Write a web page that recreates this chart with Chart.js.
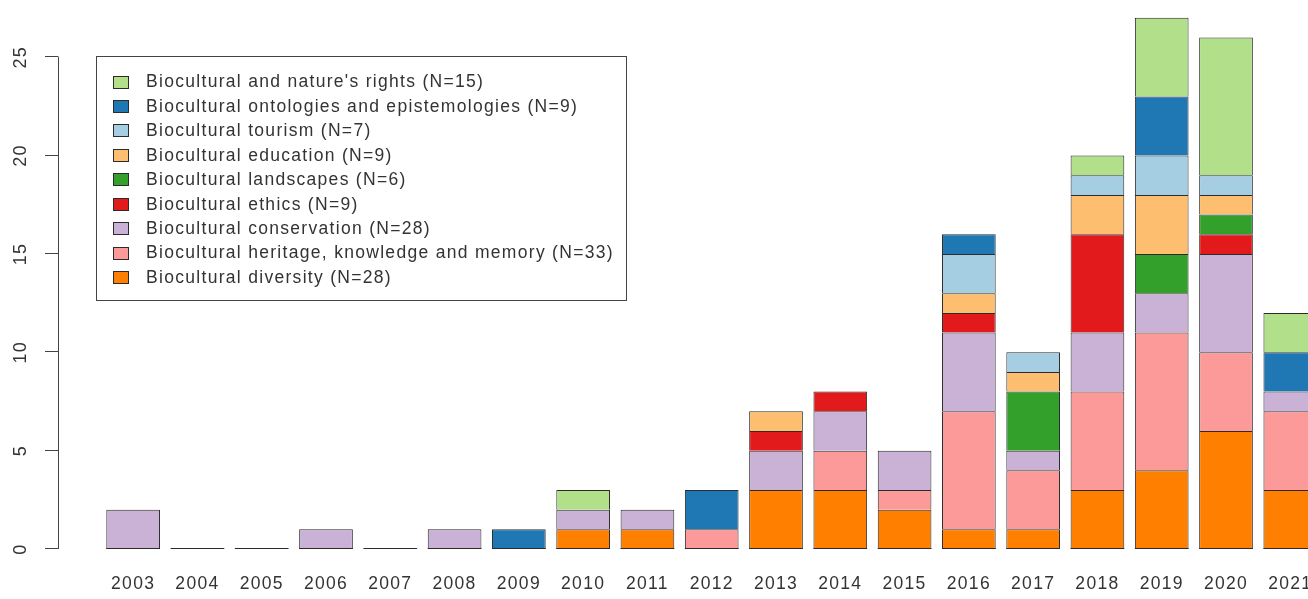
<!DOCTYPE html>
<html>
<head>
<meta charset="utf-8">
<script src="https://cdn.jsdelivr.net/npm/chart.js@4"></script>
<style>
  html, body { margin: 0; padding: 0; background: #fff; overflow: hidden; }
  #wrap { width: 1335px; height: 620px; }
</style>
</head>
<body>
<div id="wrap"><canvas id="topicsChart" width="1335" height="620"></canvas></div>
<script>
const years = ['2003', '2004', '2005', '2006', '2007', '2008', '2009', '2010', '2011', '2012',
    '2013', '2014', '2015', '2016', '2017', '2018', '2019', '2020', '2021'];

// stacked bottom to top
const diversity    = [0, 0, 0, 0, 0, 0, 0, 1, 1, 0, 3, 3, 2, 1, 1, 3, 4, 6, 3];
const heritage     = [0, 0, 0, 0, 0, 0, 0, 0, 0, 1, 0, 2, 1, 6, 3, 5, 7, 4, 4];
const conservation = [2, 0, 0, 1, 0, 1, 0, 1, 1, 0, 2, 2, 2, 4, 1, 3, 2, 5, 1];
const ethics       = [0, 0, 0, 0, 0, 0, 0, 0, 0, 0, 1, 1, 0, 1, 0, 5, 0, 1, 0];
const landscapes   = [0, 0, 0, 0, 0, 0, 0, 0, 0, 0, 0, 0, 0, 0, 3, 0, 2, 1, 0];
const education    = [0, 0, 0, 0, 0, 0, 0, 0, 0, 0, 1, 0, 0, 1, 1, 2, 3, 1, 0];
const tourism      = [0, 0, 0, 0, 0, 0, 0, 0, 0, 0, 0, 0, 0, 2, 1, 1, 2, 1, 0];
const ontologies   = [0, 0, 0, 0, 0, 0, 1, 0, 0, 2, 0, 0, 0, 1, 0, 0, 3, 0, 2];
const rights       = [0, 0, 0, 0, 0, 0, 0, 1, 0, 0, 0, 0, 0, 0, 0, 1, 4, 7, 2];

const seriesLabels = [
    'Biocultural diversity (N=28)',
    'Biocultural heritage, knowledge and memory (N=33)',
    'Biocultural conservation (N=28)',
    'Biocultural ethics (N=9)',
    'Biocultural landscapes (N=6)',
    'Biocultural education (N=9)',
    'Biocultural tourism (N=7)',
    'Biocultural ontologies and epistemologies (N=9)',
    "Biocultural and nature's rights (N=15)"
];
const seriesValues = [diversity, heritage, conservation, ethics, landscapes, education, tourism, ontologies, rights];
const seriesColors = ['#FF7F00', '#FB9A99', '#CAB2D6', '#E31A1C', '#33A02C', '#FDBF6F', '#A6CEE3', '#1F78B4', '#B2DF8A'];
const yTicks = [0, 5, 10, 15, 20, 25];

const FONT = '"Liberation Sans", Arial, sans-serif';
const TEXT = '#333';
const LINE = '#2b2b2b';

// R-style axis, zero baselines and boxed legend
const rStyle = {
    id: 'rStyle',
    beforeDraw(chart) {
        chart.ctx.letterSpacing = '1.3px';
    },
    afterDatasetsDraw(chart) {
        const ctx = chart.ctx;
        const y = chart.scales.y;
        const y0 = Math.round(y.getPixelForValue(0)) - 0.5;
        ctx.save();
        ctx.strokeStyle = LINE;
        ctx.lineWidth = 1;
        chart.getDatasetMeta(0).data.forEach(bar => {
            ctx.beginPath();
            ctx.moveTo(bar.x - bar.width / 2, y0);
            ctx.lineTo(bar.x + bar.width / 2, y0);
            ctx.stroke();
        });
        ctx.restore();
    },
    afterDraw(chart) {
        const ctx = chart.ctx;
        const y = chart.scales.y;
        ctx.save();

        // y axis
        const ax = 58.5;
        ctx.strokeStyle = '#444';
        ctx.lineWidth = 1;
        ctx.beginPath();
        ctx.moveTo(ax, y.getPixelForValue(yTicks[0]));
        ctx.lineTo(ax, y.getPixelForValue(yTicks[yTicks.length - 1]));
        yTicks.forEach(t => {
            const py = Math.round(y.getPixelForValue(t)) - 0.5;
            ctx.moveTo(ax, py);
            ctx.lineTo(45, py);
        });
        ctx.stroke();

        ctx.fillStyle = TEXT;
        ctx.font = '18px ' + FONT;
        ctx.textAlign = 'center';
        ctx.textBaseline = 'middle';
        yTicks.forEach(t => {
            ctx.save();
            ctx.translate(21, y.getPixelForValue(t));
            ctx.rotate(-Math.PI / 2);
            ctx.fillText(String(t), 0, 0);
            ctx.restore();
        });

        // legend box
        ctx.strokeStyle = '#444';
        ctx.strokeRect(96.5, 56.5, 530, 244);
        ctx.font = '17.5px ' + FONT;
        ctx.textAlign = 'left';
        const n = chart.data.datasets.length;
        for (let i = 0; i < n; i++) {
            const ds = chart.data.datasets[n - 1 - i];
            const cy = 81.5 + i * 24.45;
            ctx.fillStyle = ds.backgroundColor;
            ctx.fillRect(113, Math.round(cy - 6), 16, 13);
            ctx.strokeStyle = LINE;
            ctx.strokeRect(113.5, Math.round(cy - 6) + 0.5, 15, 12);
            ctx.fillStyle = TEXT;
            ctx.fillText(ds.label, 146, cy + 1);
        }
        ctx.restore();
        ctx.letterSpacing = '0px';
    }
};

new Chart(document.getElementById('topicsChart'), {
    type: 'bar',
    data: {
        labels: years,
        datasets: seriesValues.map((vals, i) => ({
            label: seriesLabels[i],
            data: vals,
            backgroundColor: seriesColors[i],
            borderColor: LINE,
            borderWidth: 1,
            borderSkipped: 'start',
            inflateAmount: 0,
            categoryPercentage: 1,
            barPercentage: 0.835
        }))
    },
    options: {
        responsive: false,
        animation: false,
        layout: { padding: { left: 101, right: 9, top: 8, bottom: 0 } },
        plugins: {
            legend: { display: false },
            tooltip: { enabled: false }
        },
        scales: {
            x: {
                stacked: true,
                offset: true,
                grid: { display: false, drawTicks: false },
                border: { display: false },
                ticks: {
                    color: TEXT,
                    padding: 25,
                    maxRotation: 0,
                    autoSkip: false,
                    font: { family: FONT, size: 17.5 }
                }
            },
            y: {
                stacked: true,
                display: false,
                min: 0,
                max: 27.5
            }
        }
    },
    plugins: [rStyle]
});
</script>
</body>
</html>
